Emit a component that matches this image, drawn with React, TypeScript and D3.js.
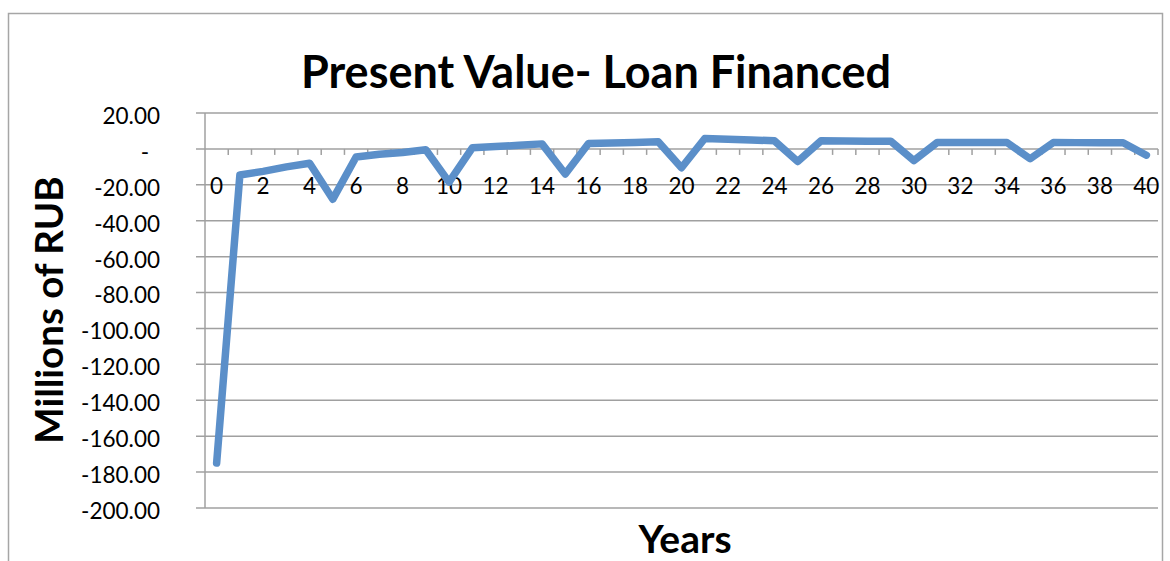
import React from 'react';
import * as d3 from 'd3';

// categories (years) and present values, millions of RUB
const years = [0, 1, 2, 3, 4, 5, 6, 7, 8, 9, 10, 11, 12, 13, 14, 15, 16, 17, 18, 19, 20,
  21, 22, 23, 24, 25, 26, 27, 28, 29, 30, 31, 32, 33, 34, 35, 36, 37, 38, 39, 40];
const presentValue = [-175, -14.5, -12.5, -10, -8, -28, -4.5, -3, -2, -0.5, -18.5,
  0.6, 1.3, 2, 2.8, -14, 3, 3.3, 3.6, 4, -10.5,
  5.8, 5.4, 5, 4.5, -7, 4.5, 4.4, 4.3, 4.3, -6.5,
  3.6, 3.6, 3.6, 3.6, -5.5, 3.6, 3.5, 3.5, 3.4, -3.5];
const yTicks = [20, 0, -20, -40, -60, -80, -100, -120, -140, -160, -180, -200];

const W = 1170;
const H = 561;
const FONT = 'Lato, "Open Sans", sans-serif';

export default function App() {
  const x = d3.scaleBand<number>().domain(years).range([205, 1158]).paddingInner(0).paddingOuter(0);
  const y = d3.scaleLinear().domain([-200, 20]).range([508, 113]);

  const line = d3.line<number>()
    .x((_, i) => (x(years[i]) as number) + x.bandwidth() / 2)
    .y(d => y(d));

  // excel style: zero shown as a dash, plain hyphen for negatives
  const fmt = (v: number) => (v === 0 ? '-' : v.toFixed(2));
  const tickEdges = years.slice(1).map(c => x(c) as number).concat([1158]);

  return (
    <svg width={W} height={H} style={{ position: 'fixed', left: 0, top: 0, background: '#fff' }}>
      {/* outer chart border */}
      <rect x={8.5} y={13.5} width={1154} height={560} fill="none" stroke="#a6a6a6" strokeWidth={1.5} />

      <text x={596} y={88} textAnchor="middle" fontFamily={FONT} fontWeight="bold" fontSize={45} fill="#000">
        Present Value- Loan Financed
      </text>

      {/* horizontal gridlines + y ticks */}
      {yTicks.map(t => (
        <g key={t}>
          <line x1={196} x2={1158} y1={y(t)} y2={y(t)} stroke="#a0a0a0" strokeWidth={1.5} />
          <text x={t === 0 ? 149 : 160} y={y(t) + 3} dy="0.35em" textAnchor="end" fontFamily={FONT} fontSize={22.5} fill="#000">
            {fmt(t)}
          </text>
        </g>
      ))}

      {/* y axis line */}
      <line x1={205} x2={205} y1={113} y2={508} stroke="#a0a0a0" strokeWidth={1.5} />

      {/* x axis ticks at category boundaries on the zero line */}
      {tickEdges.map((e, i) => (
        <line key={i} x1={e} x2={e} y1={y(0)} y2={y(0) + 6} stroke="#a0a0a0" strokeWidth={1.5} />
      ))}

      {/* category labels */}
      {years.filter(c => c % 2 === 0).map(c => (
        <text key={c} x={(x(c) as number) + x.bandwidth() / 2} y={186} dy="0.35em" textAnchor="middle"
          fontFamily={FONT} fontSize={22.5} fill="#000">
          {c}
        </text>
      ))}

      <path d={line(presentValue) || ''} fill="none" stroke="#5b8fc9" strokeWidth={7.5}
        strokeLinejoin="round" strokeLinecap="round" />

      <text transform="translate(63,310) rotate(-90)" textAnchor="middle" fontFamily={FONT} fontWeight="bold"
        fontSize={38.5} fill="#000">
        Millions of RUB
      </text>
      <text x={685} y={553} textAnchor="middle" fontFamily={FONT} fontWeight="bold" fontSize={39} fill="#000">
        Years
      </text>
    </svg>
  );
}
